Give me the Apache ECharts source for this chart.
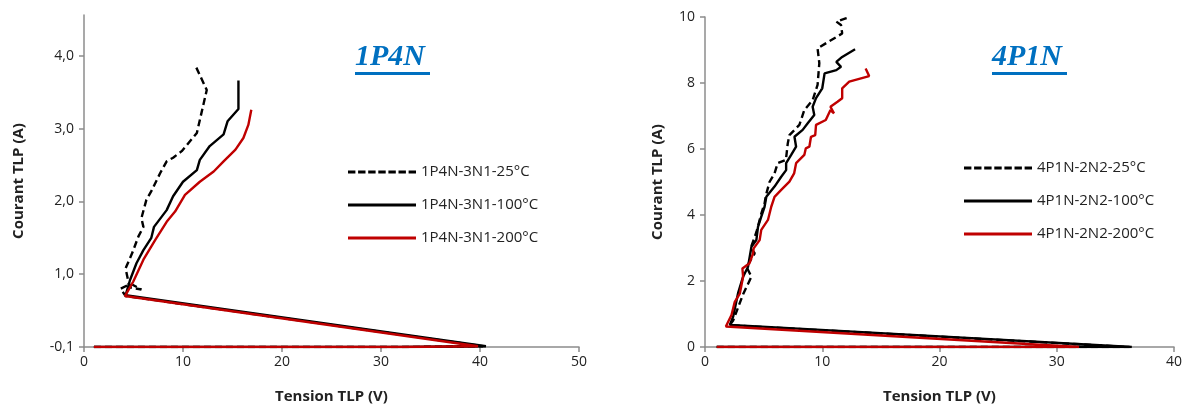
<!DOCTYPE html>
<html>
<head>
<meta charset="utf-8">
<script src="https://cdn.jsdelivr.net/npm/echarts@6/dist/echarts.min.js"></script>
<style>html,body{margin:0;padding:0;background:#fff}#c{width:1185px;height:407px}</style>
</head>
<body>
<div id="c"></div>
<script>
// ---------- Left chart: 1P4N ----------
const L25_V = [1, 8, 16, 24, 32, 40.3, 4.2, 3.7, 4.7, 5.8, 4.6, 4.2, 4.9, 5.5, 6.0, 5.8, 6.3, 6.8, 7.7, 8.35, 9.0, 9.87, 11.4, 12.4, 11.2];
const L25_I = [0, 0, 0, 0, 0, 0.01, 0.70, 0.80, 0.87, 0.79, 0.82, 1.08, 1.30, 1.52, 1.65, 1.77, 2.02, 2.14, 2.39, 2.55, 2.60, 2.69, 2.94, 3.53, 3.88];
const L100_V = [1, 8, 16, 24, 32, 40.6, 4.2, 4.65, 5.3, 6.0, 6.8, 7.07, 8.35, 9.0, 10.0, 11.4, 11.7, 12.7, 14.1, 14.5, 15.6, 15.6];
const L100_I = [0, 0, 0, 0, 0, 0.01, 0.71, 0.92, 1.15, 1.33, 1.50, 1.65, 1.88, 2.07, 2.27, 2.43, 2.57, 2.76, 2.92, 3.10, 3.27, 3.66];
const L200_V = [1, 8, 16, 24, 32, 39.8, 4.14, 4.98, 6.0, 7.2, 8.35, 9.2, 10.2, 11.7, 13.1, 14.1, 15.3, 16.1, 16.6, 16.9];
const L200_I = [0, 0, 0, 0, 0, 0.01, 0.70, 0.90, 1.20, 1.47, 1.72, 1.86, 2.09, 2.27, 2.41, 2.55, 2.71, 2.87, 3.05, 3.26];
const L_names = ['1P4N-3N1-25°C', '1P4N-3N1-100°C', '1P4N-3N1-200°C'];
const L_yTicks = [0, 1, 2, 3, 4];
const L_yTickLabels = ['-0,1', '1,0', '2,0', '3,0', '4,0'];

// ---------- Right chart: 4P1N ----------
const R25_V = [1, 8, 16, 24, 32, 36.2, 2.1, 2.4, 3.25, 3.96, 3.54, 4.24, 3.9, 4.4, 4.8, 5.08, 5.2, 5.5, 5.93, 6.2, 6.9, 7.06, 7.2, 8.05, 8.47, 9.18, 9.6, 9.75, 9.6, 10.3, 11.7, 11.6, 11.2, 12.0, 12.4];
const R25_I = [0, 0, 0, 0, 0, 0.0, 0.66, 0.80, 1.60, 2.13, 2.43, 2.84, 3.00, 3.50, 4.04, 4.35, 4.60, 5.00, 5.26, 5.57, 5.67, 6.17, 6.42, 6.73, 7.18, 7.48, 7.94, 8.60, 9.05, 9.20, 9.50, 9.76, 9.86, 9.96, 10.0];
const R100_V = [1, 8, 16, 24, 32, 36.4, 2.12, 2.4, 2.82, 3.25, 3.67, 3.96, 4.38, 4.52, 4.8, 5.08, 5.23, 5.93, 6.5, 6.92, 6.92, 7.35, 7.77, 7.63, 8.33, 8.76, 9.32, 9.18, 9.47, 10.0, 10.2, 11.2, 11.6, 11.2, 11.7, 12.8];
const R100_I = [0, 0, 0, 0, 0, 0.0, 0.67, 0.92, 1.63, 2.13, 2.43, 3.04, 3.24, 3.64, 3.95, 4.25, 4.55, 4.86, 5.16, 5.36, 5.57, 5.82, 6.07, 6.37, 6.58, 6.78, 7.03, 7.28, 7.54, 7.84, 8.29, 8.39, 8.49, 8.64, 8.79, 9.02];
const R200_V = [1, 8, 16, 24, 31.9, 1.78, 2.26, 2.54, 2.97, 3.25, 3.19, 3.8, 4.1, 4.15, 4.66, 4.8, 5.37, 5.65, 5.93, 6.5, 7.2, 7.6, 7.77, 8.47, 8.6, 8.9, 9.04, 9.4, 9.47, 10.3, 10.7, 11.0, 10.7, 11.3, 11.7, 11.7, 12.3, 14.0, 13.7];
const R200_I = [0, 0, 0, 0, 0.0, 0.62, 0.97, 1.37, 1.62, 2.13, 2.38, 2.54, 2.84, 2.99, 3.24, 3.55, 3.85, 4.25, 4.55, 4.76, 5.01, 5.26, 5.57, 5.82, 6.02, 6.07, 6.37, 6.42, 6.73, 6.88, 7.18, 7.08, 7.28, 7.43, 7.54, 7.84, 8.04, 8.21, 8.44];
const R_names = ['4P1N-2N2-25°C', '4P1N-2N2-100°C', '4P1N-2N2-200°C'];

const zip = (a, b) => a.map((v, i) => [v, b[i]]);

const FONT = '"Open Sans", "Liberation Sans", sans-serif';
const AXIS_GREY = '#8c8c8c';
const TXT = '#222';

// legend icons: dashed bar and solid bar
const DASH_ICON = 'path://M0,0h7.4v3h-7.4z M10.1,0h7.4v3h-7.4z M20.2,0h7.4v3h-7.4z M30.3,0h7.4v3h-7.4z M40.4,0h7.4v3h-7.4z M50.5,0h7.4v3h-7.4z M60.6,0h7.4v3h-7.4z';
const SOLID_ICON = 'rect';

function xAxisCfg(gridIndex, max) {
  return {
    type: 'value', gridIndex, min: 0, max, interval: 10,
    name: 'Tension TLP (V)', nameLocation: 'middle', nameGap: 42,
    nameTextStyle: { fontFamily: FONT, fontWeight: 'bold', fontSize: 15, color: TXT },
    axisLine: { show: true, lineStyle: { color: AXIS_GREY, width: 1.5 } },
    axisTick: { show: true, inside: false, length: 5, lineStyle: { color: AXIS_GREY, width: 1.5 } },
    axisLabel: { fontFamily: FONT, fontSize: 14, color: TXT, margin: 8 },
    splitLine: { show: false }
  };
}

const lineSeries = (name, xi, data, color, dashed) => ({
  name, type: 'line', xAxisIndex: xi, yAxisIndex: xi,
  data, showSymbol: false, symbol: 'none', smooth: false,
  lineStyle: { color, width: 2.4, type: dashed ? [7, 4] : 'solid' },
  itemStyle: { color },
  animation: false
});

function legendCfg(names, left, top) {
  return {
    data: names.map((n, k) => ({ name: n, icon: k === 0 ? DASH_ICON : SOLID_ICON })),
    orient: 'vertical', left, top,
    itemWidth: 68, itemHeight: 3, itemGap: 13,
    textStyle: { fontFamily: FONT, fontSize: 15, color: TXT, lineHeight: 20 },
    selectedMode: false
  };
}

const chart = echarts.init(document.getElementById('c'), null, { renderer: 'canvas' });
chart.setOption({
  backgroundColor: '#fff',
  animation: false,
  grid: [
    { left: 84, top: 15, width: 495, height: 332, containLabel: false, outerBoundsMode: 'none' },
    { left: 705, top: 17, width: 469, height: 330, containLabel: false, outerBoundsMode: 'none' }
  ],
  xAxis: [xAxisCfg(0, 50), xAxisCfg(1, 40)],
  yAxis: [
    {
      type: 'value', gridIndex: 0, min: 0, max: 4.56,
      name: 'Courant TLP (A)', nameLocation: 'middle', nameGap: 58,
      nameTextStyle: { fontFamily: FONT, fontWeight: 'bold', fontSize: 15, color: TXT },
      axisLine: { show: true, lineStyle: { color: AXIS_GREY, width: 1.5 } },
      axisTick: { show: true, length: 5, customValues: L_yTicks, lineStyle: { color: AXIS_GREY, width: 1.5 } },
      axisLabel: {
        fontFamily: FONT, fontSize: 14, color: TXT, margin: 10, customValues: L_yTicks,
        formatter: v => { const k = L_yTicks.indexOf(v); return k >= 0 ? L_yTickLabels[k] : ''; }
      },
      splitLine: { show: false }
    },
    {
      type: 'value', gridIndex: 1, min: 0, max: 10, interval: 2,
      name: 'Courant TLP (A)', nameLocation: 'middle', nameGap: 40,
      nameTextStyle: { fontFamily: FONT, fontWeight: 'bold', fontSize: 15, color: TXT },
      axisLine: { show: true, lineStyle: { color: AXIS_GREY, width: 1.5 } },
      axisTick: { show: true, length: 5, lineStyle: { color: AXIS_GREY, width: 1.5 } },
      axisLabel: { fontFamily: FONT, fontSize: 14, color: TXT, margin: 10 },
      splitLine: { show: false }
    }
  ],
  legend: [legendCfg(L_names, 343, 157), legendCfg(R_names, 959, 153)],
  series: [
    lineSeries(L_names[0], 0, zip(L25_V, L25_I), '#000000', true),
    lineSeries(L_names[1], 0, zip(L100_V, L100_I), '#000000', false),
    lineSeries(L_names[2], 0, zip(L200_V, L200_I), '#c00000', false),
    lineSeries(R_names[0], 1, zip(R25_V, R25_I), '#000000', true),
    lineSeries(R_names[1], 1, zip(R100_V, R100_I), '#000000', false),
    lineSeries(R_names[2], 1, zip(R200_V, R200_I), '#c00000', false)
  ],
  graphic: [
    { type: 'text', left: 355, top: 42, style: { text: '1P4N', font: 'italic bold 30px "Liberation Serif", serif', fill: '#0070c0' } },
    { type: 'rect', left: 355, top: 72, shape: { width: 75, height: 3 }, style: { fill: '#0070c0' } },
    { type: 'text', left: 992, top: 42, style: { text: '4P1N', font: 'italic bold 30px "Liberation Serif", serif', fill: '#0070c0' } },
    { type: 'rect', left: 992, top: 72, shape: { width: 75, height: 3 }, style: { fill: '#0070c0' } }
  ]
});
</script>
</body>
</html>
